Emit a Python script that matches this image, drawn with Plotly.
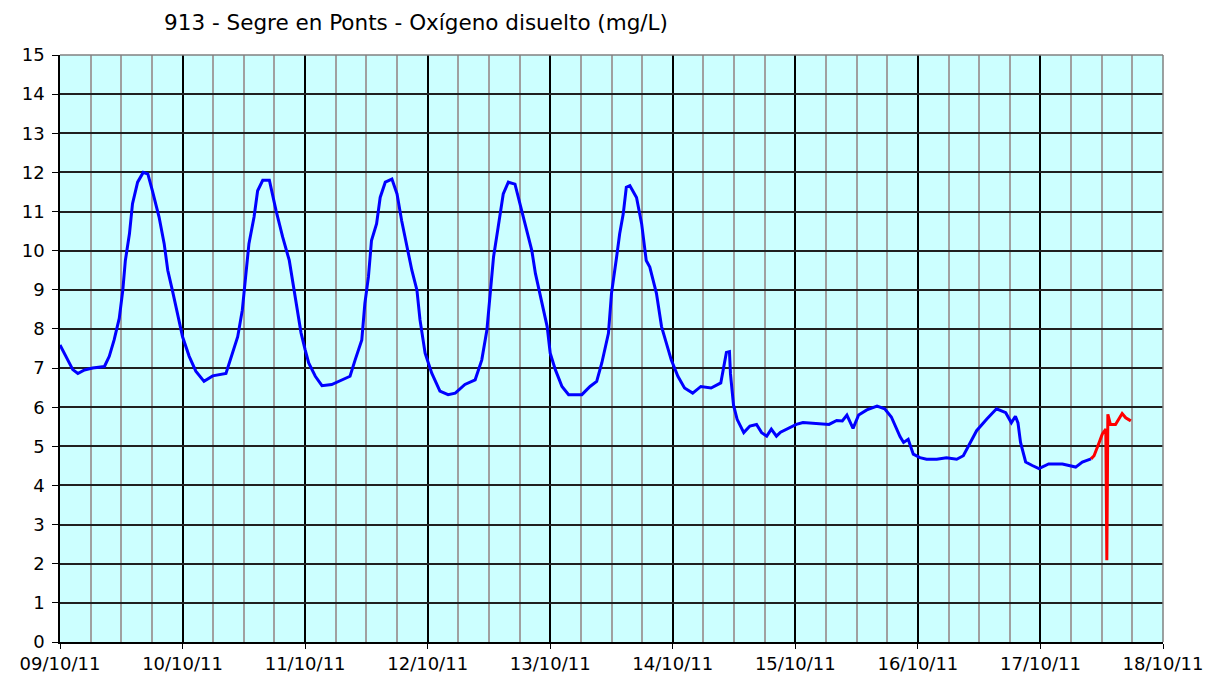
import pandas as pd
import plotly.graph_objects as go

# --- Data (hours after 09/10/11 00:00, mg/L) ---
start = pd.Timestamp('2011-10-09')

blue_hours = [0, 1.2, 2.5, 3.5, 4.8, 6.4, 8.7, 9.65, 10.6, 11.6, 12.3, 12.8, 13.6, 14.2,
              15.2, 16.3, 17.2, 18.1, 19.4, 20.4, 21.1, 22.0, 23.0, 24.0, 25.3, 26.6,
              28.2, 29.9, 32.5, 33.8, 34.8, 35.7, 36.4, 37.0, 38.0, 38.7, 39.7, 41.0,
              42.3, 43.6, 44.9, 45.4, 46.2, 47.2, 48.0, 48.7, 50.0, 51.3, 53.2, 55.2,
              56.8, 57.8, 59.1, 59.7, 60.4, 61.0, 62.0, 62.7, 63.7, 65.0, 66.0, 66.9,
              67.9, 68.9, 69.9, 70.5, 71.5, 72.8, 74.4, 76.0, 77.4, 79.3, 81.3, 82.6,
              83.6, 84.2, 84.9, 85.8, 86.8, 87.8, 89.1, 90.4, 91.7, 92.4, 93.1, 94.4,
              95.4, 96.0, 97.0, 98.3, 99.6, 102.2, 103.8, 105.1, 106.1, 107.4, 108.0,
              109.0, 109.6, 110.3, 110.9, 111.6, 112.9, 113.9, 114.8, 115.5, 116.8,
              117.8, 118.7, 119.7, 121.0, 122.3, 123.9, 125.5, 127.5, 129.4, 130.5,
              131.1, 131.3, 131.9, 132.6, 133.9, 135.1, 136.4, 137.4, 138.4, 139.3,
              140.3, 141.1, 141.6, 142.9, 144.2, 145.5, 148.1, 150.6, 152.1, 153.2,
              154.1, 155.3, 156.4, 158.0, 160.0, 161.5, 162.8, 163.9, 164.5, 165.2,
              166.1, 167.1, 168.4, 169.7, 171.7, 173.6, 175.6, 176.9, 178.2, 179.5,
              181.5, 183.4, 185.2, 186.3, 187.1, 187.6, 188.1, 189.1, 190.4, 191.7,
              193.6, 196.3, 198.9, 200.2, 201.9]
blue_values = [7.59, 7.3, 6.96, 6.86, 6.95, 7.0, 7.04, 7.3, 7.72, 8.27, 8.99, 9.75, 10.43, 11.2,
               11.75, 12.0, 11.96, 11.53, 10.86, 10.18, 9.5, 8.99, 8.4, 7.8, 7.3, 6.92,
               6.66, 6.8, 6.86, 7.38, 7.8, 8.48, 9.33, 10.18, 10.86, 11.53, 11.8, 11.8,
               11.03, 10.35, 9.75, 9.37, 8.7, 7.9, 7.47, 7.13, 6.79, 6.55, 6.58, 6.7,
               6.79, 7.21, 7.72, 8.65, 9.33, 10.26, 10.69, 11.36, 11.75, 11.83, 11.45, 10.77,
               10.09, 9.5, 8.99, 8.23, 7.38, 6.87, 6.41, 6.32, 6.36, 6.58, 6.7, 7.21,
               7.97, 8.9, 9.84, 10.6, 11.45, 11.75, 11.7, 11.03, 10.35, 10.0, 9.42, 8.65,
               8.06, 7.38, 6.96, 6.53, 6.32, 6.32, 6.53, 6.66, 7.13, 7.89, 8.91,
               9.84, 10.43, 10.94, 11.62, 11.66, 11.36, 10.69, 9.75, 9.58, 8.91,
               8.06, 7.64, 7.21, 6.79, 6.49, 6.36, 6.53, 6.49, 6.62, 7.4,
               7.42, 6.85, 6.05, 5.69, 5.35, 5.52, 5.56, 5.35, 5.26, 5.44,
               5.26, 5.36, 5.39, 5.48, 5.56, 5.61, 5.59, 5.56, 5.66, 5.65,
               5.8, 5.46, 5.8, 5.93, 6.03, 5.96, 5.75, 5.44, 5.25, 5.1,
               5.18, 4.8, 4.71, 4.67, 4.67, 4.71, 4.67, 4.76, 5.1, 5.4,
               5.7, 5.96, 5.86, 5.6, 5.77, 5.6, 5.1, 4.6, 4.51, 4.43,
               4.55, 4.55, 4.47, 4.6, 4.68]

red_hours = [201.9, 202.5, 203.5, 204.1, 204.8, 205.0, 205.2, 205.7, 206.7, 207.4, 208.0, 208.7, 209.7]
red_values = [4.68, 4.76, 5.1, 5.31, 5.44, 2.09, 5.82, 5.56, 5.56, 5.73, 5.84, 5.73, 5.65]

title_text = '913 - Segre en Ponts - Oxígeno disuelto (mg/L)'


def to_dates(hours):
    # whole minutes, so no nanosecond warnings
    return [start + pd.Timedelta(minutes=round(h * 60)) for h in hours]


font_name = 'DejaVu Sans'

fig = go.Figure()
fig.add_trace(go.Scatter(x=to_dates(blue_hours), y=blue_values, mode='lines',
                         line=dict(color='#0000FF', width=3), showlegend=False))
fig.add_trace(go.Scatter(x=to_dates(red_hours), y=red_values, mode='lines',
                         line=dict(color='#FF0000', width=3), showlegend=False))

# top and right edges of the plot area are gray in the original
fig.add_shape(type='line', xref='x domain', yref='y domain', x0=0, x1=1, y0=1, y1=1,
              line=dict(color='#808080', width=1.5), layer='above')
fig.add_shape(type='line', xref='x domain', yref='y domain', x0=1, x1=1, y0=0, y1=1,
              line=dict(color='#808080', width=1.5), layer='above')

# the page body has an 8px margin, so the margins are shifted by that much
fig.update_layout(
    width=1221, height=682,
    margin=dict(l=49, r=66, t=47, b=48),
    paper_bgcolor='white',
    plot_bgcolor='#CCFFFF',
    font=dict(family=font_name, size=17, color='black'),
    title=dict(text=title_text, xref='container', yref='container',
               x=408 / 1221, y=1 - 14 / 682, xanchor='center', yanchor='middle',
               font=dict(family=font_name, size=21.5, color='black')),
)

fig.update_xaxes(
    type='date',
    range=[start, start + pd.Timedelta(days=9)],
    dtick=86400000, tick0=start, tickformat='%d/%m/%y',
    tickfont=dict(size=18),
    showgrid=True, gridcolor='black', gridwidth=1.5,
    minor=dict(dtick=21600000, showgrid=True, gridcolor='#A0A0A0', gridwidth=2),
    showline=True, linecolor='black', linewidth=1.5,
    ticks='outside', ticklen=5, tickcolor='black',
    zeroline=False,
)
fig.update_yaxes(
    range=[0, 15], dtick=1,
    tickfont=dict(size=18),
    showgrid=True, gridcolor='#202020', gridwidth=1.5,
    showline=True, linecolor='black', linewidth=1.5,
    ticks='outside', ticklen=6, tickcolor='black',
    ticklabelstandoff=4,
    zeroline=False,
)

fig.write_html("out.html")
